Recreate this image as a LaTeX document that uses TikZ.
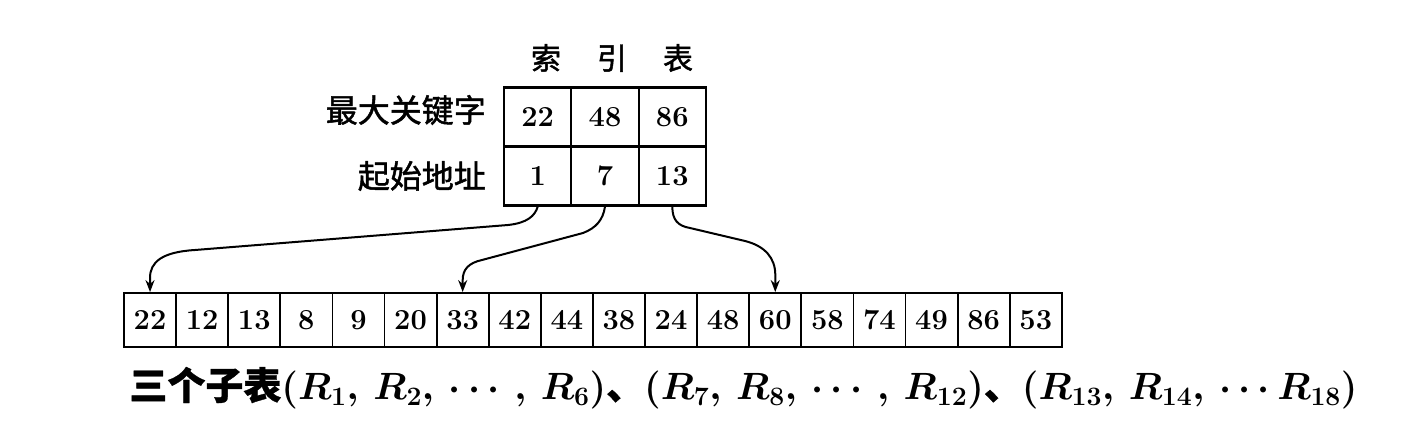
\RequirePackage{fix-cm}
\documentclass[tikz,border=0pt]{standalone}
\usepackage{fontspec}
\usepackage{amsmath}
\newfontfamily\cjk{Noto Sans CJK SC}[FakeBold=1.5]
\newfontfamily\cjkcap{Noto Sans CJK SC}[FakeBold=0.8]
\usetikzlibrary{arrows.meta}
\tikzset{
  icell/.style={draw,line width=2.2pt,minimum width=67.3pt,minimum height=59pt,inner sep=0pt,font=\fontsize{29}{29}\selectfont\bfseries},
  acell/.style={draw,line width=1.8pt,minimum width=52.1pt,minimum height=54pt,inner sep=0pt,font=\fontsize{29}{29}\selectfont\bfseries},
  lbl/.style={anchor=east,inner sep=0pt,font=\fontsize{32}{32}\selectfont\cjk},
  conn/.style={line width=2pt,-{Stealth[length=12pt,width=9pt]}},
}
\begin{document}
\begin{tikzpicture}[x=1pt,y=-1pt]
\useasboundingbox (0,0) rectangle (1418,430);
% title
\node[inner sep=0pt,font=\fontsize{30}{30}\selectfont\cjk] (title) at (612,58) {索\hspace{36pt}引\hspace{36pt}表};
% labels
\node[lbl] (lmax) at (486,110) {最大关键字};
\node[lbl] (lstart) at (486,176) {起始地址};
% index table
\node[icell] (k1) at (537.7,117) {22};
\node[icell] (k2) at (605,117) {48};
\node[icell] (k3) at (672.3,117) {86};
\node[icell] (i1) at (537.7,176) {1};
\node[icell] (i2) at (605,176) {7};
\node[icell] (i3) at (672.3,176) {13};
% array
\foreach \v [count=\i] in {22,12,13,8,9,20,33,42,44,38,24,48,60,58,74,49,86,53}{
  \node[acell] (a\i) at ({124+(\i-0.5)*52.1},320) {\v};
}
% connectors
\coordinate (p1a) at (508,225);
\coordinate (p1b) at (195,250);
\coordinate (p1c) at (150,278);
\draw[conn] (i1.south) .. controls (535,216) and (527,223) .. (p1a) -- (p1b)
  .. controls (162,252) and (150,262) .. (p1c) -- (a1.north);
\coordinate (p2a) at (583,233);
\coordinate (p2b) at (482,260);
\coordinate (p2c) at (462.7,280);
\draw[conn] (i2.south) .. controls (603,220) and (596,228) .. (p2a) -- (p2b)
  .. controls (468,263) and (462.7,270) .. (p2c) -- (a7.north);
\coordinate (p3a) at (690,228);
\coordinate (p3b) at (745,241);
\coordinate (p3c) at (775.3,275);
\draw[conn] (i3.south) .. controls (672.3,220) and (678,226) .. (p3a) -- (p3b)
  .. controls (765,246) and (775.3,258) .. (p3c) -- (a13.north);
% caption
\node[inner sep=0pt,font=\fontsize{38}{38}\selectfont\bfseries] (cap) at (743.5,388)
  {{\cjkcap 三个子表}{\boldmath$(R_1,\,R_2,\,\cdots,\,R_6)$}{\cjkcap 、}{\boldmath$(R_7,\,R_8,\,\cdots,\,R_{12})$}{\cjkcap 、}{\boldmath$(R_{13},\,R_{14},\,\cdots R_{18})$}};
\end{tikzpicture}
\end{document}
